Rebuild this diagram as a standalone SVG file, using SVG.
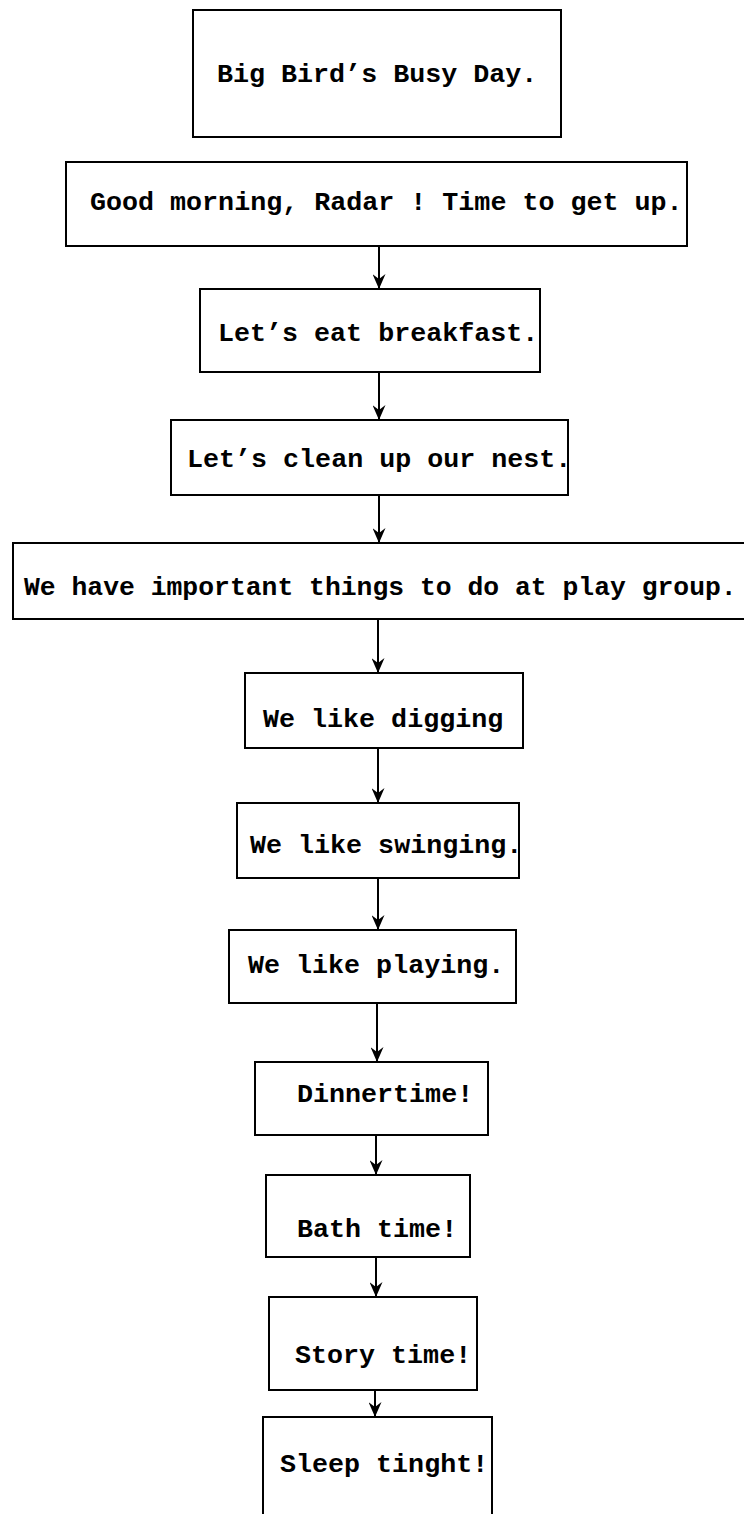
<svg xmlns="http://www.w3.org/2000/svg" width="744" height="1514" viewBox="0 0 744 1514">
<style>
.box{fill:#fff;stroke:#000;stroke-width:2}
.t{font-family:"Liberation Mono","DejaVu Sans Mono",monospace;font-weight:bold;font-size:26.7px;fill:#000}
.c{stroke:#000;stroke-width:2;fill:none}
</style>
<defs>
<marker id="ah" viewBox="0 0 15 13" refX="15" refY="6.5" markerWidth="15" markerHeight="13" markerUnits="userSpaceOnUse" orient="auto">
<path d="M0,0 L15,6.5 L0,13 L5,6.5 z" fill="#000"/>
</marker>
</defs>
<rect width="744" height="1514" fill="#fff"/>
<g id="connectors">
<line class="c" x1="379" y1="246" x2="379" y2="289" marker-end="url(#ah)"/>
<line class="c" x1="379" y1="372" x2="379" y2="420" marker-end="url(#ah)"/>
<line class="c" x1="379" y1="495" x2="379" y2="543" marker-end="url(#ah)"/>
<line class="c" x1="378" y1="619" x2="378" y2="673" marker-end="url(#ah)"/>
<line class="c" x1="378" y1="748" x2="378" y2="803" marker-end="url(#ah)"/>
<line class="c" x1="378" y1="878" x2="378" y2="930" marker-end="url(#ah)"/>
<line class="c" x1="377" y1="1003" x2="377" y2="1062" marker-end="url(#ah)"/>
<line class="c" x1="376" y1="1135" x2="376" y2="1175" marker-end="url(#ah)"/>
<line class="c" x1="376" y1="1257" x2="376" y2="1297" marker-end="url(#ah)"/>
<line class="c" x1="375" y1="1390" x2="375" y2="1417" marker-end="url(#ah)"/>
</g>
<g id="n1"><rect class="box" x="193" y="10" width="368" height="127"/><text class="t" x="217" y="82">Big Bird’s Busy Day.</text></g>
<g id="n2"><rect class="box" x="66" y="162" width="621" height="84"/><text class="t" x="90" y="210">Good morning, Radar ! Time to get up.</text></g>
<g id="n3"><rect class="box" x="200" y="289" width="340" height="83"/><text class="t" x="218" y="341">Let’s eat breakfast.</text></g>
<g id="n4"><rect class="box" x="171" y="420" width="397" height="75"/><text class="t" x="187" y="467">Let’s clean up our nest.</text></g>
<g id="n5"><path class="box" d="M760,543 L13,543 L13,619 L760,619"/><text class="t" x="24" y="595" style="font-size:26.4px">We have important things to do at play group.</text></g>
<g id="n6"><rect class="box" x="245" y="673" width="278" height="75"/><text class="t" x="263" y="727">We like digging</text></g>
<g id="n7"><rect class="box" x="237" y="803" width="282" height="75"/><text class="t" x="250" y="853">We like swinging.</text></g>
<g id="n8"><rect class="box" x="229" y="930" width="287" height="73"/><text class="t" x="248" y="973">We like playing.</text></g>
<g id="n9"><rect class="box" x="255" y="1062" width="233" height="73"/><text class="t" x="297" y="1102">Dinnertime!</text></g>
<g id="n10"><rect class="box" x="266" y="1175" width="204" height="82"/><text class="t" x="297" y="1237">Bath time!</text></g>
<g id="n11"><rect class="box" x="269" y="1297" width="208" height="93"/><text class="t" x="295" y="1363">Story time!</text></g>
<g id="n12"><path class="box" d="M263,1520 L263,1417 L492,1417 L492,1520"/><text class="t" x="280" y="1472">Sleep tinght!</text></g>
</svg>
